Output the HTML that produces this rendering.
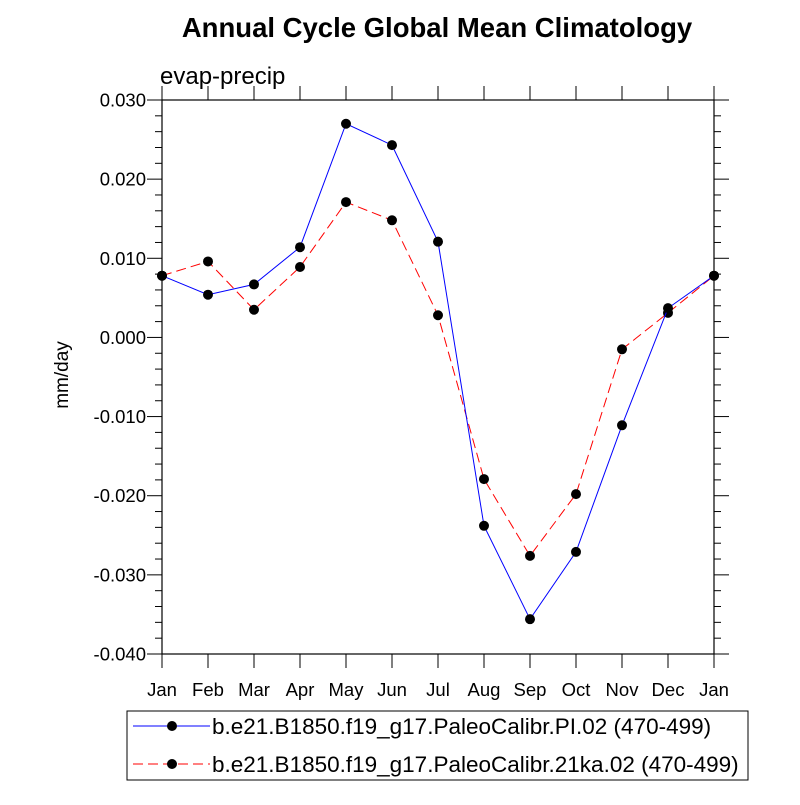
<!DOCTYPE html>
<html><head><meta charset="utf-8"><style>body{margin:0;background:#fff}</style></head><body>
<svg id="c" width="800" height="800" xmlns="http://www.w3.org/2000/svg" font-family="Liberation Sans, sans-serif">
<text x="437" y="37" text-anchor="middle" font-size="27.5" font-weight="bold">Annual Cycle Global Mean Climatology</text>
<text x="160" y="84" font-size="24">evap-precip</text>
<text transform="translate(68,375) rotate(-90)" text-anchor="middle" font-size="19">mm/day</text>
<g id="axes"></g>
<g id="series"></g>
<rect x="127" y="711" width="621" height="69" fill="none" stroke="#000" stroke-width="1"/>
<g>
<line x1="133" y1="726" x2="210" y2="726" stroke="#00f" stroke-width="1"/>
<circle cx="172" cy="726" r="5" fill="#000"/>
<text x="212" y="734" font-size="22.5">b.e21.B1850.f19_g17.PaleoCalibr.PI.02 (470-499)</text>
</g>
<g>
<line x1="133" y1="764" x2="210" y2="764" stroke="#f00" stroke-width="1" stroke-dasharray="10,5"/>
<circle cx="172" cy="764" r="5" fill="#000"/>
<text x="212" y="772" font-size="22.5">b.e21.B1850.f19_g17.PaleoCalibr.21ka.02 (470-499)</text>
</g>
</svg>
<script>
const months=["Jan","Feb","Mar","Apr","May","Jun","Jul","Aug","Sep","Oct","Nov","Dec","Jan"];
const seriesPI=[0.0078,0.0054,0.0067,0.0114,0.0270,0.0243,0.0121,-0.0238,-0.0356,-0.0271,-0.0111,0.0037,0.0078];
const series21ka=[0.0078,0.0096,0.0035,0.0089,0.0171,0.0148,0.0028,-0.0179,-0.0276,-0.0198,-0.0015,0.0031,0.0078];
const yTicks=[0.030,0.020,0.010,0.000,-0.010,-0.020,-0.030,-0.040];
const yTickLabels=["0.030","0.020","0.010","0.000","-0.010","-0.020","-0.030","-0.040"];
const NS="http://www.w3.org/2000/svg";
const X0=162,X1=714,Y0=100,Y1=654,YMAX=0.030,YMIN=-0.040;
function xs(i){return X0+(X1-X0)*i/(months.length-1);}
function ys(v){return Y0+(YMAX-v)/(YMAX-YMIN)*(Y1-Y0);}
function mk(t,a,p){const e=document.createElementNS(NS,t);for(const k in a)e.setAttribute(k,a[k]);p.appendChild(e);return e;}
const ax=document.getElementById('axes');
const fr=mk('rect',{x:X0,y:Y0,width:X1-X0,height:Y1-Y0,fill:'none',stroke:'#000','stroke-width':1.2},ax);


for(let v=YMIN;v<=YMAX+1e-9;v+=0.002){const y=ys(v);const maj=Math.abs(Math.round(v*1000)%10)===0;const L=maj?15:7;
mk('line',{x1:X0-L,y1:y,x2:X0,y2:y,stroke:'#000'},ax);mk('line',{x1:X1,y1:y,x2:X1+L,y2:y,stroke:'#000'},ax);}
yTicks.forEach((v,i)=>{const t=mk('text',{x:X0-16,y:ys(v)+6.5,'text-anchor':'end','font-size':18.5},ax);t.textContent=yTickLabels[i];

});
months.forEach((m,i)=>{const x=xs(i);mk('line',{x1:x,y1:Y1,x2:x,y2:Y1+14,stroke:'#000'},ax);mk('line',{x1:x,y1:Y0-14,x2:x,y2:Y0,stroke:'#000'},ax);
const t=mk('text',{x:x,y:Y1+42,'text-anchor':'middle','font-size':18.5},ax);t.textContent=m;

});
const sg=document.getElementById('series');
function draw(vals,color,dash,name){const g=mk('g',{},sg);


mk('polyline',{points:vals.map((v,i)=>xs(i)+','+ys(v)).join(' '),fill:'none',stroke:color,'stroke-width':1,'stroke-dasharray':dash},g);
vals.forEach((v,i)=>{const c=mk('circle',{cx:xs(i),cy:ys(v),r:5,fill:'#000'},g);

});}
draw(series21ka,'#f00','10,5','series-21ka');
draw(seriesPI,'#00f','none','series-pi');
</script>
</body></html>
